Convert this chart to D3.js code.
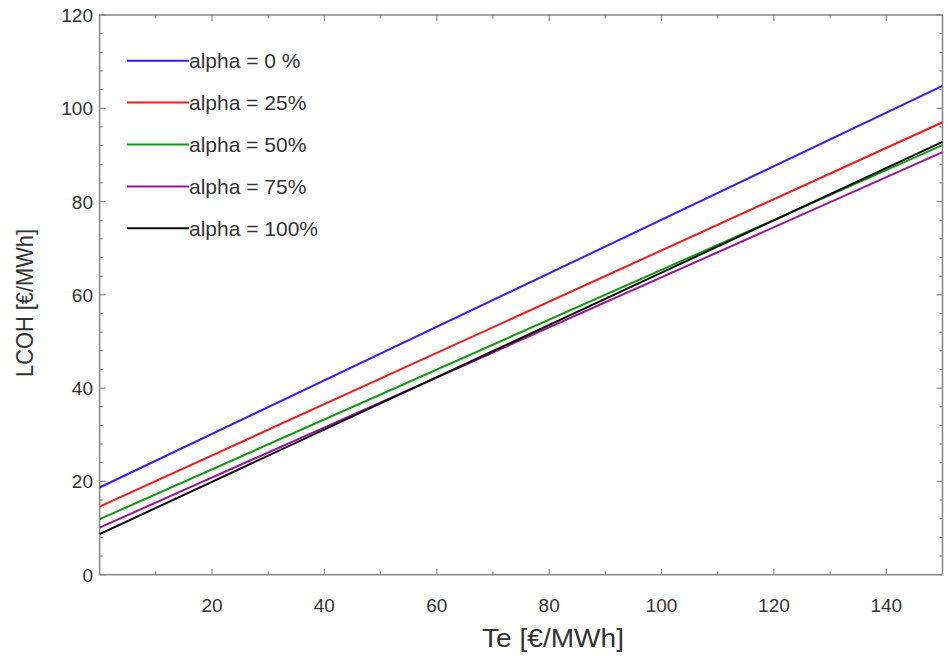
<!DOCTYPE html>
<html><head><meta charset="utf-8">
<script src="https://cdn.jsdelivr.net/npm/d3@7"></script>
<style>body{margin:0;background:#fff;}svg{display:block;font-family:"Liberation Sans",Arial,sans-serif;}</style>
</head><body><svg id="c" width="948" height="656"></svg>
<script>
const teValues = [0, 150];
const seriesNames = ["alpha = 0 %", "alpha = 25%", "alpha = 50%", "alpha = 75%", "alpha = 100%"];
const seriesColors = ["#3a1df5", "#f21a1a", "#139a13", "#99129a", "#0a0a0a"];
const alpha0 = [18.7, 104.8];
const alpha25 = [14.6, 97.0];
const alpha50 = [11.9, 92.1];
const alpha75 = [10.1, 90.6];
const alpha100 = [8.7, 92.8];
const xTicks = [20, 40, 60, 80, 100, 120, 140];
const yTicks = [0, 20, 40, 60, 80, 100, 120];
const xTitle = "Te [€/MWh]";
const yTitle = "LCOH [€/MWh]";

const series = [alpha0, alpha25, alpha50, alpha75, alpha100];
const svg = d3.select("#c");
const L = 99.6, R = 942.5, T = 15, B = 574.7;
const x = d3.scaleLinear().domain([0, 150]).range([L, R]);
const y = d3.scaleLinear().domain([0, 120]).range([B, T]);
const axisColor = "#8a8a8a", textColor = "#333";

// minor ticks
const xMinor = d3.range(10, 150, 10);
const yMinor = d3.range(4, 120, 4);
const g = svg.append("g");
function tickLines(vals, len, orient) {
  vals.forEach(v => {
    if (orient === "b") g.append("line").attr("x1", x(v)).attr("x2", x(v)).attr("y1", B).attr("y2", B - len);
    if (orient === "t") g.append("line").attr("x1", x(v)).attr("x2", x(v)).attr("y1", T).attr("y2", T + len);
    if (orient === "l") g.append("line").attr("y1", y(v)).attr("y2", y(v)).attr("x1", L).attr("x2", L + len);
    if (orient === "r") g.append("line").attr("y1", y(v)).attr("y2", y(v)).attr("x1", R).attr("x2", R - len);
  });
}
tickLines(xMinor.filter(v => v % 20 !== 0), 3.5, "b");
tickLines(xTicks, 6, "b");
tickLines(xMinor.filter(v => v % 20 !== 0), 3.5, "t");
tickLines(xTicks, 6, "t");
tickLines(yMinor.filter(v => v % 20 !== 0), 3, "l");
tickLines(yTicks, 6, "l");
tickLines(yMinor.filter(v => v % 20 !== 0), 3, "r");
tickLines(yTicks, 6, "r");
g.selectAll("line").attr("stroke", axisColor).attr("stroke-width", 1.2);

svg.append("rect").attr("x", L).attr("y", T).attr("width", R - L).attr("height", B - T)
  .attr("fill", "none").attr("stroke", axisColor).attr("stroke-width", 1.6);

// tick labels
svg.selectAll(".xl").data(xTicks).enter().append("text")
  .attr("x", d => x(d)).attr("y", 612).attr("text-anchor", "middle")
  .attr("font-size", 19).attr("fill", textColor).text(d => d);
svg.selectAll(".yl").data(yTicks).enter().append("text")
  .attr("x", 93).attr("y", d => y(d) + 7).attr("text-anchor", "end")
  .attr("font-size", 19).attr("fill", textColor).text(d => d);

svg.append("text").attr("x", 553).attr("y", 647).attr("text-anchor", "middle")
  .attr("font-size", 25).attr("textLength", 142).attr("lengthAdjust", "spacingAndGlyphs")
  .attr("fill", textColor).text(xTitle);
svg.append("text").attr("transform", "translate(33,303) rotate(-90)").attr("text-anchor", "middle")
  .attr("font-size", 24).attr("textLength", 148).attr("lengthAdjust", "spacingAndGlyphs")
  .attr("fill", textColor).text(yTitle);

// lines
const line = d3.line().x((d, i) => x(teValues[i])).y(d => y(d));
series.forEach((s, i) => {
  svg.append("path").datum(s).attr("d", line).attr("fill", "none")
    .attr("stroke", seriesColors[i]).attr("stroke-width", 2);
});

// legend
seriesNames.forEach((n, i) => {
  const yy = 60.7 + i * 41.9;
  svg.append("line").attr("x1", 127).attr("x2", 189).attr("y1", yy).attr("y2", yy)
    .attr("stroke", seriesColors[i]).attr("stroke-width", 2);
  svg.append("text").attr("x", 189).attr("y", yy + 7.5).attr("font-size", 21)
    .attr("fill", textColor).text(n);
});
</script></body></html>
